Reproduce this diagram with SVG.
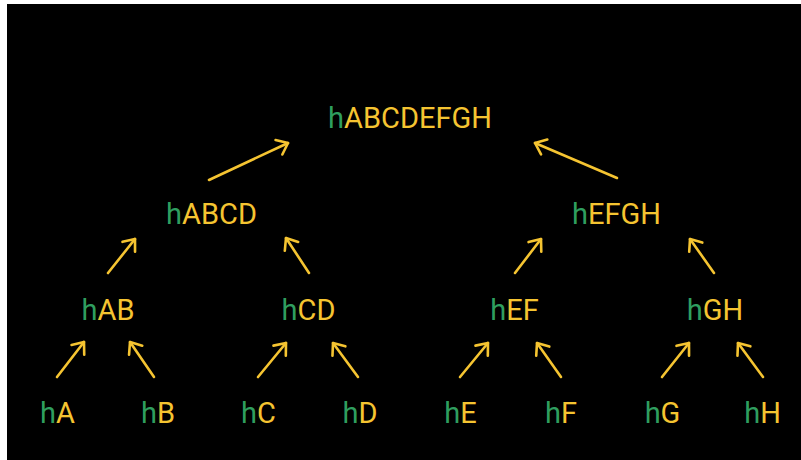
<svg xmlns="http://www.w3.org/2000/svg" width="801" height="460" viewBox="0 0 801 460">
<defs>
<style>
text{font-family:Roboto,"Liberation Sans",sans-serif;font-size:29px;text-anchor:middle;fill:#f5c431}
.g{fill:#2f9e5f}
.c line{stroke:#f5c431;stroke-width:2.6;stroke-linecap:round;marker-end:url(#ah)}
</style>
<marker id="ah" markerUnits="userSpaceOnUse" viewBox="-12 -10 14 20" refX="0" refY="0" markerWidth="14" markerHeight="20" orient="auto">
<path d="M-10,-8 L0,0 L-10,8" fill="none" stroke="#f5c431" stroke-width="2.6" stroke-linecap="round" stroke-linejoin="round"/>
</marker>
</defs>
<rect x="0" y="0" width="801" height="460" fill="#ffffff"/>
<rect x="7" y="4" width="794" height="456" fill="#000000"/>
<g class="c" id="connectors">
<line x1="209" y1="180" x2="288" y2="143"/>
<line x1="617" y1="178" x2="535" y2="143"/>
<line x1="108" y1="273" x2="135" y2="239"/>
<line x1="309" y1="273" x2="286" y2="238"/>
<line x1="515" y1="273" x2="541" y2="239"/>
<line x1="714" y1="273" x2="690" y2="239"/>
<line x1="57" y1="377" x2="84" y2="342"/>
<line x1="154" y1="377" x2="130" y2="342"/>
<line x1="258" y1="377" x2="286" y2="343"/>
<line x1="358" y1="377" x2="333" y2="343"/>
<line x1="460" y1="377" x2="488" y2="343"/>
<line x1="561" y1="377" x2="537" y2="343"/>
<line x1="662" y1="377" x2="689" y2="343"/>
<line x1="763" y1="377" x2="738" y2="343"/>
</g>
<g id="hABCDEFGH"><text x="410" y="128"><tspan class="g">h</tspan>ABCDEFGH</text></g>
<g id="hABCD"><text x="211.5" y="224"><tspan class="g">h</tspan>ABCD</text></g>
<g id="hEFGH"><text x="616.5" y="224"><tspan class="g">h</tspan>EFGH</text></g>
<g id="hAB"><text x="108" y="320"><tspan class="g">h</tspan>AB</text></g>
<g id="hCD"><text x="308.5" y="320"><tspan class="g">h</tspan>CD</text></g>
<g id="hEF"><text x="514.5" y="320"><tspan class="g">h</tspan>EF</text></g>
<g id="hGH"><text x="715" y="320"><tspan class="g">h</tspan>GH</text></g>
<g id="hA"><text x="57.5" y="423"><tspan class="g">h</tspan>A</text></g>
<g id="hB"><text x="158" y="423"><tspan class="g">h</tspan>B</text></g>
<g id="hC"><text x="258.5" y="423"><tspan class="g">h</tspan>C</text></g>
<g id="hD"><text x="360" y="423"><tspan class="g">h</tspan>D</text></g>
<g id="hE"><text x="460.5" y="423"><tspan class="g">h</tspan>E</text></g>
<g id="hF"><text x="561" y="423"><tspan class="g">h</tspan>F</text></g>
<g id="hG"><text x="662.5" y="423"><tspan class="g">h</tspan>G</text></g>
<g id="hH"><text x="762.5" y="423"><tspan class="g">h</tspan>H</text></g>
</svg>
